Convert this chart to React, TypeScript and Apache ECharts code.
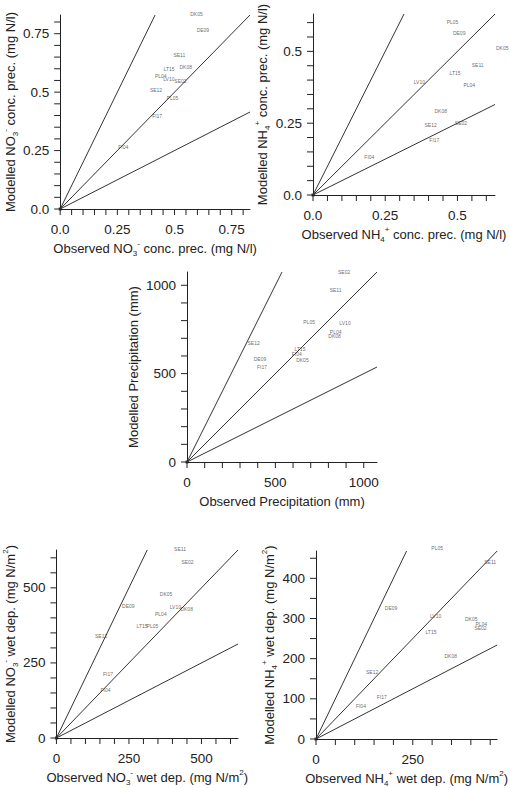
import React, { useEffect, useRef } from "react";
import * as echarts from "echarts";

// ---- Panel 1: NO3- concentration in precipitation (mg N/l)
const no3ConcNames = ["DK05", "DE09", "SE11", "DK08", "LT15", "PL04", "LV10", "SE02", "SE12", "PL05", "FI17", "FI04"];
const no3ConcObs = [0.596, 0.624, 0.521, 0.549, 0.476, 0.44, 0.475, 0.526, 0.419, 0.491, 0.424, 0.276];
const no3ConcMod = [0.835, 0.765, 0.657, 0.606, 0.598, 0.567, 0.556, 0.547, 0.507, 0.477, 0.398, 0.267];

// ---- Panel 2: NH4+ concentration in precipitation (mg N/l)
const nh4ConcNames = ["PL05", "DE09", "DK05", "SE11", "LT15", "LV10", "PL04", "DK08", "SE12", "SE02", "FI17", "FI04"];
const nh4ConcObs = [0.483, 0.506, 0.655, 0.57, 0.492, 0.368, 0.541, 0.442, 0.407, 0.512, 0.42, 0.195];
const nh4ConcMod = [0.603, 0.5625, 0.511, 0.452, 0.425, 0.393, 0.383, 0.294, 0.243, 0.251, 0.192, 0.134];

// ---- Panel 3: Precipitation (mm)
const precipNames = ["SE02", "SE11", "PL05", "LV10", "PL04", "DK08", "SE12", "LT15", "FI04", "DK05", "DE09", "FI17"];
const precipObs = [889, 841, 691, 894, 841, 835, 377, 640, 621, 653, 413, 424];
const precipMod = [1077, 972, 794, 786, 735, 713, 675, 637, 613, 577, 583, 538];

// ---- Panel 4: NO3- wet deposition (mg N/m2)
const no3DepNames = ["SE11", "SE02", "DK05", "DE09", "LV10", "DK08", "PL04", "LT15", "PL05", "SE12", "FI17", "FI04"];
const no3DepObs = [426, 452, 378, 248, 410, 449, 360, 295, 331, 154, 178, 169];
const no3DepMod = [628, 587, 478, 441, 435, 428, 414, 374, 372, 339, 213, 161];

// ---- Panel 5: NH4+ wet deposition (mg N/m2)
const nh4DepNames = ["PL05", "SE11", "DE09", "LV10", "DK05", "PL04", "SE02", "LT15", "DK08", "SE12", "FI17", "FI04"];
const nh4DepObs = [313, 450, 194, 309, 401, 427, 425, 297, 348, 145, 170, 116];
const nh4DepMod = [475, 441, 327, 307, 298, 286, 276, 267, 207, 166, 105, 82];

// axis settings per panel
const axisMax = [0.83, 0.63, 1075, 626, 468];
const tickStep = [0.05, 0.05, 100, 50, 50];
const xLabelStep = [0.25, 0.25, 500, 250, 250];
const yLabelStep = [0.25, 0.25, 500, 250, 100];
const decimalLabels = [true, true, false, false, false];

const xTitles = [
  "Observed NO{sub|3}{sup|-} conc. prec. (mg N/l)",
  "Observed NH{sub|4}{sup|+} conc. prec. (mg N/l)",
  "Observed Precipitation (mm)",
  "Observed NO{sub|3}{sup|-} wet dep. (mg N/m{sup|2})",
  "Observed NH{sub|4}{sup|+} wet dep. (mg N/m{sup|2})",
];
const yTitles = [
  "Modelled NO{sub|3}{sup|-} conc. prec. (mg N/l)",
  "Modelled NH{sub|4}{sup|+} conc. prec. (mg N/l)",
  "Modelled Precipitation (mm)",
  "Modelled NO{sub|3}{sup|-} wet dep. (mg N/m{sup|2})",
  "Modelled NH{sub|4}{sup|+} wet dep. (mg N/m{sup|2})",
];

const panelNames = [no3ConcNames, nh4ConcNames, precipNames, no3DepNames, nh4DepNames];
const panelObs = [no3ConcObs, nh4ConcObs, precipObs, no3DepObs, nh4DepObs];
const panelMod = [no3ConcMod, nh4ConcMod, precipMod, no3DepMod, nh4DepMod];

// layout (pixels)
const grids = [
  { left: 57, top: 15, width: 193, height: 194 },
  { left: 313, top: 14, width: 182, height: 181 },
  { left: 187, top: 272, width: 190, height: 190 },
  { left: 52, top: 550, width: 186, height: 188 },
  { left: 316, top: 551, width: 188, height: 189 },
];
const yNameGaps = [38, 36, 42, 35, 34];
const xNameGap = 30;
const TICK_LEN = 6;

const FONT = "'Liberation Sans', Arial, sans-serif";
const INK = "#222";

const rich = {
  sub: { fontSize: 8, fontFamily: FONT, color: INK, verticalAlign: "bottom" as const },
  sup: { fontSize: 8, fontFamily: FONT, color: INK, verticalAlign: "top" as const },
};

function stepsUpTo(step: number, max: number) {
  const out: number[] = [];
  const n = Math.floor(max / step + 1e-9);
  for (let k = 0; k <= n; k++) out.push(+(k * step).toFixed(6));
  return out;
}

function fmt(v: number, decimals: boolean) {
  if (decimals) return v === 0 ? "0.0" : String(+v.toFixed(2));
  return String(Math.round(v));
}

function axisBase(i: number, labelStep: number, name: string, gap: number, isY: boolean) {
  return {
    type: "value",
    gridIndex: i,
    min: 0,
    max: axisMax[i],
    interval: tickStep[i],
    name,
    nameLocation: "middle",
    nameGap: gap,
    nameTextStyle: {
      fontSize: 13,
      fontFamily: FONT,
      color: INK,
      lineHeight: 18,
      rich,
    },
    axisLine: { show: true, onZero: false, lineStyle: { color: INK, width: 1 } },
    axisTick: { show: false },
    minorTick: { show: false },
    axisLabel: {
      show: true,
      fontSize: 13.5,
      fontFamily: FONT,
      color: INK,
      margin: isY ? 11 : 13,
      customValues: stepsUpTo(labelStep, axisMax[i]),
      formatter: (v: number) => fmt(v, decimalLabels[i]),
    },
    splitLine: { show: false },
  };
}

export default function App() {
  const ref = useRef<HTMLDivElement>(null);
  useEffect(() => {
    if (!ref.current) return;
    const chart = echarts.init(ref.current, null, { renderer: "svg" });

    const xAxis: any[] = [];
    const yAxis: any[] = [];
    const series: any[] = [];
    for (let i = 0; i < 5; i++) {
      xAxis.push(axisBase(i, xLabelStep[i], xTitles[i], xNameGap, false));
      yAxis.push(axisBase(i, yLabelStep[i], yTitles[i], yNameGaps[i], true));
      const M = axisMax[i];
      const refLines = [
        [[0, 0], [M / 2, M]],
        [[0, 0], [M, M]],
        [[0, 0], [M, M / 2]],
      ];
      refLines.forEach((d) => {
        series.push({
          type: "line",
          xAxisIndex: i,
          yAxisIndex: i,
          data: d,
          symbol: "none",
          silent: true,
          lineStyle: { color: "#333", width: 1 },
        });
      });
      // axis ticks drawn as thin rect symbols positioned through the axis scale
      const ticks = stepsUpTo(tickStep[i], M);
      series.push({
        type: "scatter",
        xAxisIndex: i,
        yAxisIndex: i,
        silent: true,
        clip: false,
        symbol: "rect",
        symbolSize: [1, TICK_LEN],
        symbolOffset: [0, TICK_LEN / 2],
        itemStyle: { color: INK, opacity: 1 },
        z: 10,
        data: ticks.map((t) => [t, 0]),
      });
      series.push({
        type: "scatter",
        xAxisIndex: i,
        yAxisIndex: i,
        silent: true,
        clip: false,
        symbol: "rect",
        symbolSize: [TICK_LEN, 1],
        symbolOffset: [-TICK_LEN / 2, 0],
        itemStyle: { color: INK, opacity: 1 },
        z: 10,
        data: ticks.map((t) => [0, t]),
      });
      series.push({
        type: "scatter",
        xAxisIndex: i,
        yAxisIndex: i,
        symbolSize: 1,
        clip: false,
        itemStyle: { color: "rgba(0,0,0,0)" },
        silent: true,
        data: panelNames[i].map((n, k) => ({ name: n, value: [panelObs[i][k], panelMod[i][k]] })),
        label: {
          show: true,
          position: "inside",
          formatter: "{b}",
          fontSize: 5,
          fontFamily: FONT,
          color: "#444",
        },
      });
      // small origin dot
      series.push({
        type: "scatter",
        xAxisIndex: i,
        yAxisIndex: i,
        symbol: "rect",
        symbolSize: 3,
        silent: true,
        itemStyle: { color: "#111" },
        data: [[0, 0]],
      });
    }

    chart.setOption({
      animation: false,
      backgroundColor: "#fff",
      grid: grids.map((g) => ({ ...g, containLabel: false })),
      xAxis,
      yAxis,
      series,
    });
    return () => chart.dispose();
  }, []);
  return (
    <div
      ref={ref}
      style={{ position: "absolute", left: 0, top: 0, width: 510, height: 788 }}
    />
  );
}
